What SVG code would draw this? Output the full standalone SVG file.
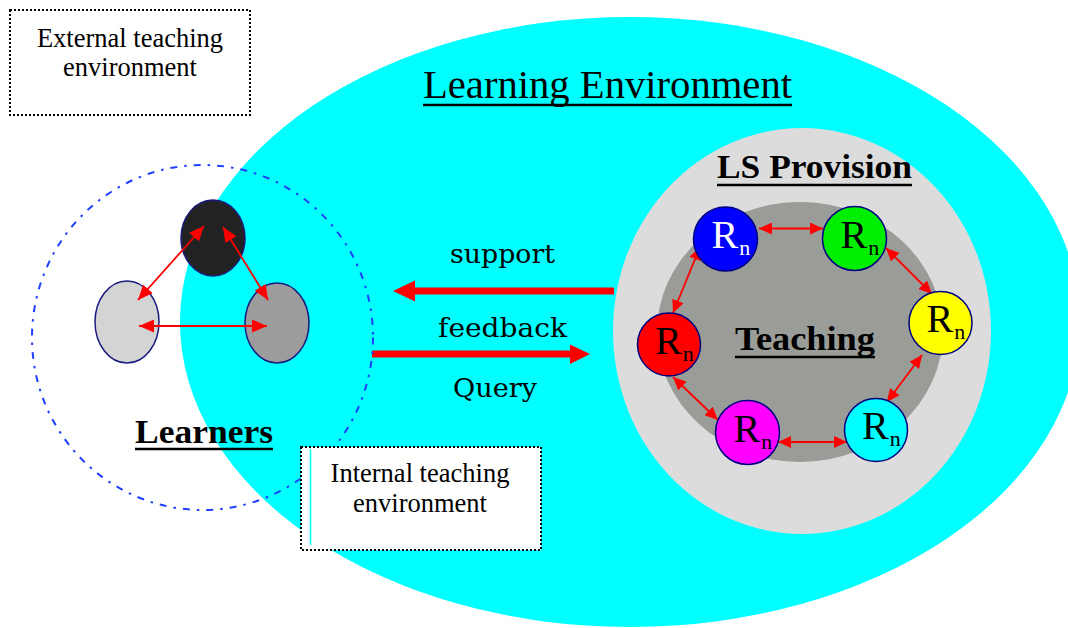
<svg xmlns="http://www.w3.org/2000/svg" width="1068" height="628" viewBox="0 0 1068 628">
<style>
.serif{font-family:"Liberation Serif","Times New Roman",serif;fill:#000}
.title{font-size:40px}
.bold{font-weight:bold;font-size:33px}
.box{fill:#fff;stroke:#000;stroke-width:2;stroke-dasharray:2 2}
.boxtxt{font-size:26.5px;text-anchor:middle}
.flow{font-family:"DejaVu Serif",serif;font-size:26px;fill:#000}
.ul{stroke:#000;stroke-width:2.6}
.rn{stroke:#000080;stroke-width:1.5}
.rtxt{font-family:"Liberation Serif","Times New Roman",serif;font-size:40px;fill:#000}
.learner{stroke:#1a1a80;stroke-width:1.5}
.thin{stroke:#ff0000;stroke-width:1.8;fill:none}
.thick{stroke:#ff0000;stroke-width:7;fill:none}
</style>
<defs>
<marker id="ah" viewBox="0 0 13 12" refX="13" refY="6" markerWidth="13" markerHeight="12" markerUnits="userSpaceOnUse" orient="auto-start-reverse"><path d="M0,0 L13,6 L0,12 z" fill="#ff0000"/></marker>
<marker id="ahL" viewBox="0 0 15 13" refX="15" refY="6.5" markerWidth="15" markerHeight="13" markerUnits="userSpaceOnUse" orient="auto-start-reverse"><path d="M0,0 L15,6.5 L0,13 z" fill="#ff0000"/></marker>
</defs>
<rect x="0" y="0" width="1068" height="628" fill="#fff"/>

<g id="learning-environment">
<ellipse cx="630" cy="322" rx="450" ry="305" fill="#00ffff"/>
<text class="serif title" x="423" y="98" textLength="369" lengthAdjust="spacingAndGlyphs">Learning Environment</text>
<line class="ul" x1="423" y1="105" x2="792" y2="105"/>
</g>

<g id="big-arrows">
<line class="thick" x1="614" y1="291" x2="413" y2="291"/>
<polygon points="393,291 415,280.5 415,301.5" fill="#ff0000"/>
<line class="thick" x1="372" y1="354" x2="572" y2="354"/>
<polygon points="590,354 570,344.5 570,364" fill="#ff0000"/>
<text class="flow" x="450" y="263" textLength="105" lengthAdjust="spacingAndGlyphs">support</text>
<text class="flow" x="438" y="337" textLength="129" lengthAdjust="spacingAndGlyphs">feedback</text>
<text class="flow" x="453" y="397" textLength="84" lengthAdjust="spacingAndGlyphs">Query</text>
</g>

<g id="learners">
<ellipse cx="202.5" cy="337.5" rx="170.5" ry="172.5" fill="none" stroke="#1f3fff" stroke-width="2" stroke-dasharray="7 7 2.5 7"/>
<ellipse id="learner-top" class="learner" cx="213" cy="238" rx="32" ry="38" fill="#222222"/>
<ellipse id="learner-left" class="learner" cx="127" cy="322" rx="32" ry="41" fill="#d4d4d4"/>
<ellipse id="learner-right" class="learner" cx="277" cy="323" rx="32" ry="40" fill="#9c9c9c"/>
<text class="serif bold" x="135" y="443" textLength="138" lengthAdjust="spacingAndGlyphs">Learners</text>
<line class="ul" x1="135" y1="449" x2="273" y2="449" stroke-width="3"/>
</g>

<g id="ls-provision">
<ellipse cx="802" cy="331" rx="189" ry="203" fill="#dcdcdc"/>
<text class="serif bold" x="717" y="178" textLength="195" lengthAdjust="spacingAndGlyphs">LS Provision</text>
<line class="ul" x1="717" y1="185" x2="912" y2="185" stroke-width="3"/>
</g>

<g id="teaching">
<ellipse cx="800" cy="332" rx="143" ry="130" fill="#9a9c97"/>
<text class="serif bold" x="735" y="350" textLength="140" lengthAdjust="spacingAndGlyphs">Teaching</text>
<line class="ul" x1="735" y1="357" x2="875" y2="357" stroke-width="2.6"/>
</g>

<g id="connectors">
<line class="thin" x1="138" y1="300" x2="204" y2="226" marker-start="url(#ahL)" marker-end="url(#ahL)"/>
<line class="thin" x1="223" y1="227" x2="268" y2="300" marker-start="url(#ahL)" marker-end="url(#ahL)"/>
<line class="thin" x1="139" y1="326" x2="267" y2="326" marker-start="url(#ahL)" marker-end="url(#ahL)"/>
<line class="thin" x1="759" y1="228.5" x2="823" y2="228.5" marker-start="url(#ah)" marker-end="url(#ah)"/>
<line class="thin" x1="886" y1="248" x2="932" y2="294" marker-start="url(#ah)" marker-end="url(#ah)"/>
<line class="thin" x1="922" y1="355" x2="887" y2="402" marker-start="url(#ah)" marker-end="url(#ah)"/>
<line class="thin" x1="847" y1="442" x2="778" y2="442" marker-start="url(#ah)" marker-end="url(#ah)"/>
<line class="thin" x1="718" y1="420" x2="673" y2="377" marker-start="url(#ah)" marker-end="url(#ah)"/>
<line class="thin" x1="673" y1="313" x2="700" y2="247" marker-start="url(#ah)" marker-end="url(#ah)"/>
</g>

<g id="rn-blue">
<circle class="rn" cx="725.5" cy="239" r="32" fill="#0000ff"/>
<text class="rtxt" x="711.5" y="248" fill="#fff" style="fill:#fff">R<tspan font-size="22" dx="1" dy="7">n</tspan></text>
</g>
<g id="rn-green">
<circle class="rn" cx="854.5" cy="238.5" r="32" fill="#00ee00"/>
<text class="rtxt" x="840.5" y="247.5">R<tspan font-size="22" dx="1" dy="7">n</tspan></text>
</g>
<g id="rn-yellow">
<circle class="rn" cx="940.5" cy="323" r="31.5" fill="#ffff00"/>
<text class="rtxt" x="926.5" y="332">R<tspan font-size="22" dx="1" dy="7">n</tspan></text>
</g>
<g id="rn-red">
<circle class="rn" cx="669" cy="344.5" r="31.5" fill="#ff0000"/>
<text class="rtxt" x="655" y="353.5">R<tspan font-size="22" dx="1" dy="7">n</tspan></text>
</g>
<g id="rn-magenta">
<circle class="rn" cx="747.5" cy="432.5" r="32" fill="#ff00ff"/>
<text class="rtxt" x="733.5" y="441.5">R<tspan font-size="22" dx="1" dy="7">n</tspan></text>
</g>
<g id="rn-cyan">
<circle class="rn" cx="876" cy="430" r="31.5" fill="#00ffff"/>
<text class="rtxt" x="862" y="439">R<tspan font-size="22" dx="1" dy="7">n</tspan></text>
</g>

<g id="external-box">
<rect class="box" x="10" y="10" width="240" height="105"/>
<text class="serif boxtxt" x="130" y="47">External teaching</text>
<text class="serif boxtxt" x="130" y="76">environment</text>
</g>

<g id="internal-box">
<rect class="box" x="301" y="447" width="240" height="103"/>
<line x1="310.5" y1="449" x2="310.5" y2="545" stroke="#00ffff" stroke-width="1.5"/>
<text class="serif boxtxt" x="420" y="482">Internal teaching</text>
<text class="serif boxtxt" x="420" y="512">environment</text>
</g>
</svg>
